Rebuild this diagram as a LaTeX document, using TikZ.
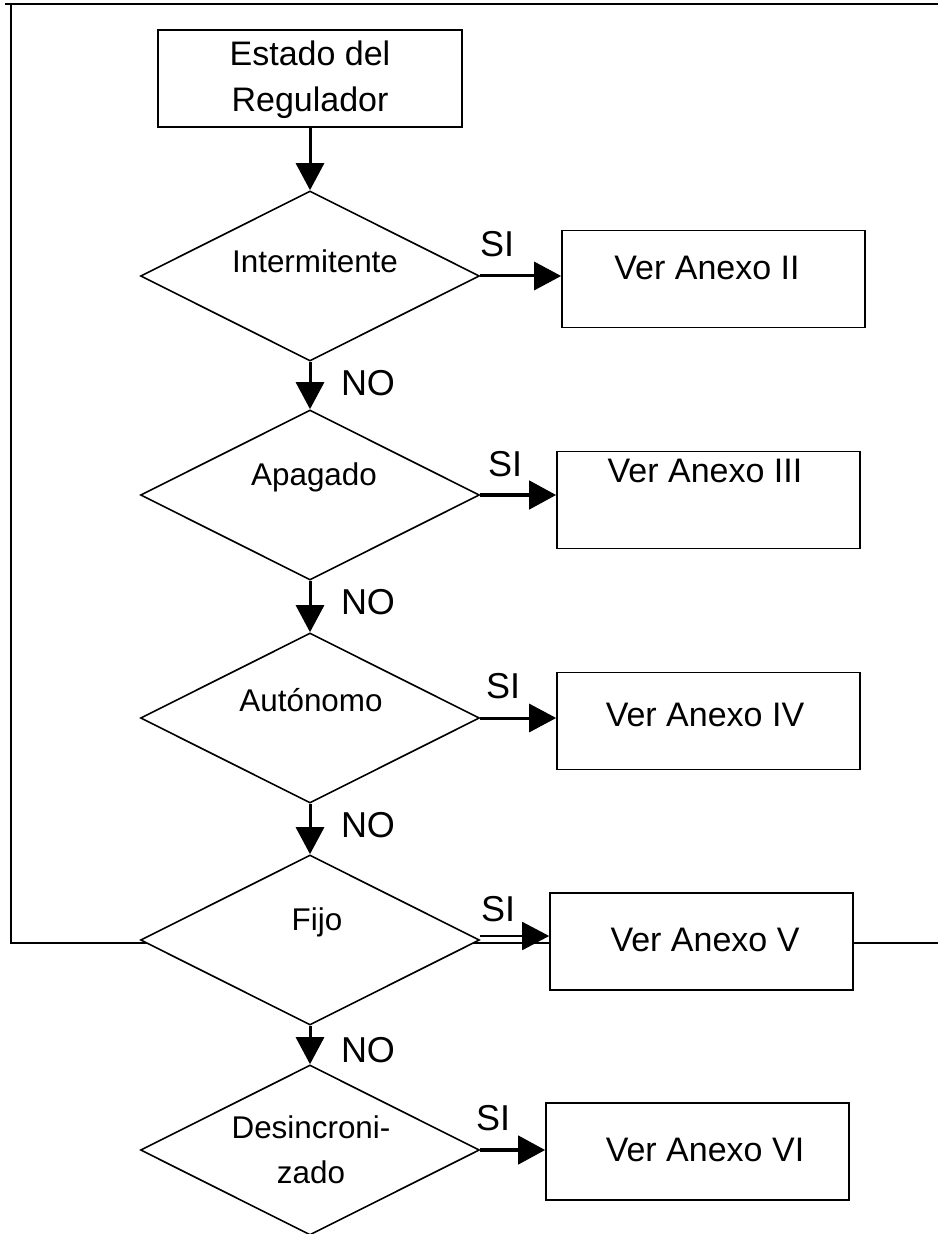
\documentclass[tikz,border=0pt]{standalone}
\usepackage{fontspec}
\setmainfont{Liberation Sans}
\usetikzlibrary{shapes.geometric,arrows.meta}

\begin{document}
\begin{tikzpicture}[x=0.5pt,y=-0.5pt,
  caja/.style={draw,fill=white,line width=0.8pt,minimum width=151.5pt,minimum height=48.5pt,inner sep=0pt},
  rombo/.style={draw,fill=white,line width=0.8pt,diamond,aspect=2,minimum width=169.5pt,minimum height=85pt,inner sep=0pt},
  flecha/.style={line width=1.5pt,-{Triangle[length=13.5pt,width=14pt]}},
  txt/.style={font=\fontsize{17}{23}\selectfont,align=center},
  txtr/.style={font=\fontsize{15.7}{22.5}\selectfont,align=center},
  etq/.style={font=\fontsize{18}{22}\selectfont}]
\useasboundingbox (0,0) rectangle (938,1234);
% marco
\draw[line width=1.3pt] (5,4) -- (938,4);
\draw[line width=1pt] (11,4) -- (11,943) -- (938,943);
% inicio
\node[caja,minimum width=152pt] (estado) at (310,78.5) {};
\node[txt] at (310,80) {Estado del\\Regulador};
% rombos
\node[rombo] (d1) at (310,276) {};
\node[rombo] (d2) at (310,495) {};
\node[rombo] (d3) at (310,718) {};
\node[rombo] (d4) at (310,940) {};
\node[rombo] (d5) at (310,1150) {};
\node[txtr] at (315,261) {Intermitente};
\node[txtr] at (314,477) {Apagado};
\node[txtr] at (311,700) {Autónomo};
\node[txtr] at (317,922) {Fijo};
\node[txtr] at (311,1150) {Desincroni-\\zado};
% cajas
\node[caja] (a2) at (713.5,279) {};
\node[caja] (a3) at (708.5,500) {};
\node[caja] (a4) at (708.5,721) {};
\node[caja] (a5) at (701.5,941.5) {};
\node[caja] (a6) at (697.5,1151.5) {};
\node[txt] at (707,268) {Ver Anexo II};
\node[txt] at (705,471) {Ver Anexo III};
\node[txt] at (705,715) {Ver Anexo IV};
\node[txt] at (705,940) {Ver Anexo V};
\node[txt] at (705,1150) {Ver Anexo VI};
% flechas NO
\draw[flecha] (estado.south) -- (d1.north);
\draw[flecha] (d1.south) -- (d2.north);
\draw[flecha] (d2.south) -- (d3.north);
\draw[flecha] (d3.south) -- (d4.north);
\draw[flecha] (d4.south) -- (d5.north);
\node[etq] at (368,383) {NO};
\node[etq] at (368,602) {NO};
\node[etq] at (368,825) {NO};
\node[etq] at (368,1050) {NO};
% flechas SI
\draw[flecha] (d1.east) -- (d1.east -| a2.west);
\draw[flecha,line width=2.2pt] (d2.east) -- (d2.east -| a3.west);
\draw[flecha] (d3.east) -- (d3.east -| a4.west);
\draw[flecha,line width=0.9pt] ([yshift=2pt]d4.east) -- ([yshift=2pt]d4.east -| a5.west);
\draw[flecha,line width=2.2pt] (d5.east) -- (d5.east -| a6.west);
\node[etq] at (497,244) {SI};
\node[etq] at (505,464) {SI};
\node[etq] at (503,686) {SI};
\node[etq] at (498,909) {SI};
\node[etq] at (493,1118) {SI};
\end{tikzpicture}
\end{document}
